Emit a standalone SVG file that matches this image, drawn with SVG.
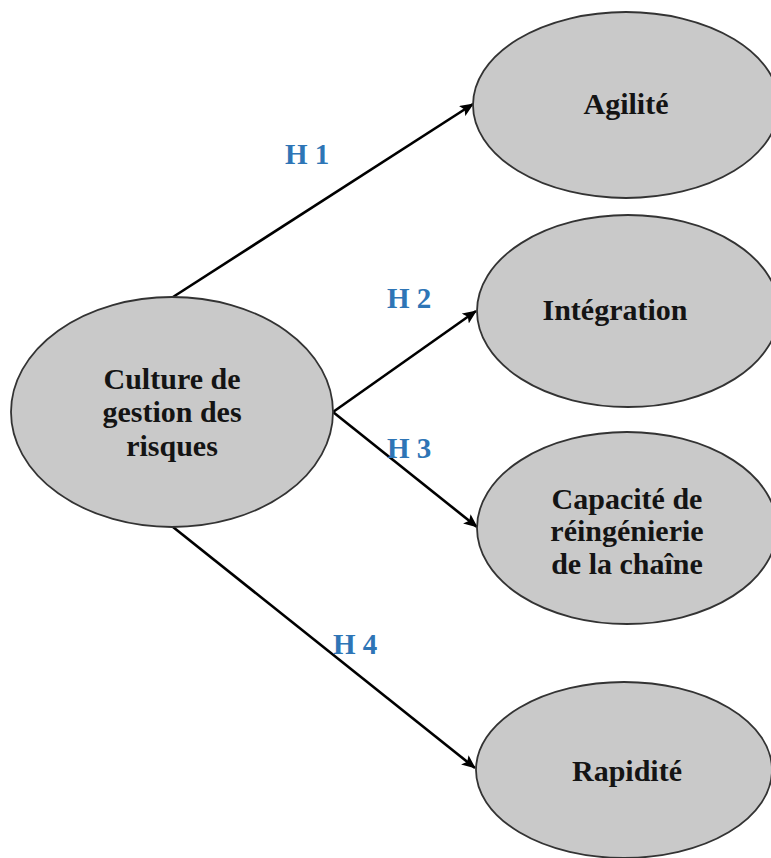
<svg xmlns="http://www.w3.org/2000/svg" width="771" height="858" viewBox="0 0 771 858">
<style>
.node{fill:#c9c9c9;stroke:#333;stroke-width:1.8}
.lbl{font-family:"Liberation Serif","Times New Roman",serif;font-weight:bold;font-size:30px;fill:#141414;text-anchor:middle}
.hyp{font-family:"Liberation Serif","Times New Roman",serif;font-weight:bold;font-size:29px;fill:#2e75b6}
.edge{stroke:#000;stroke-width:2.6;fill:none;marker-end:url(#arr)}
</style>
<defs>
<marker id="arr" markerUnits="userSpaceOnUse" markerWidth="14" markerHeight="12" refX="13" refY="6" orient="auto">
<path d="M0,0 L14,6 L0,12 L3,6 Z" fill="#000"/>
</marker>
</defs>
<rect width="771" height="858" fill="#fff"/>
<g id="connectors">
<line class="edge" x1="173" y1="297" x2="473" y2="104"/>
<line class="edge" x1="333" y1="412" x2="476" y2="311"/>
<line class="edge" x1="333" y1="412" x2="477" y2="527"/>
<line class="edge" x1="173" y1="527" x2="475" y2="768"/>
<text class="hyp" x="285" y="164">H 1</text>
<text class="hyp" x="387" y="308">H 2</text>
<text class="hyp" x="387" y="458">H 3</text>
<text class="hyp" x="333" y="654">H 4</text>
</g>
<g id="culture">
<ellipse class="node" cx="172" cy="412" rx="161" ry="115"/>
<text class="lbl" x="172" y="389">Culture de</text>
<text class="lbl" x="172" y="422">gestion des</text>
<text class="lbl" x="172" y="456">risques</text>
</g>
<g id="agilite">
<ellipse class="node" cx="626" cy="105" rx="153" ry="93"/>
<text class="lbl" x="626" y="114">Agilité</text>
</g>
<g id="integration">
<ellipse class="node" cx="628" cy="311" rx="151" ry="96"/>
<text class="lbl" x="615" y="320">Intégration</text>
</g>
<g id="capacite">
<ellipse class="node" cx="627" cy="528" rx="150" ry="96"/>
<text class="lbl" x="627" y="509">Capacité de</text>
<text class="lbl" x="627" y="541">réingénierie</text>
<text class="lbl" x="627" y="574">de la chaîne</text>
</g>
<g id="rapidite">
<ellipse class="node" cx="624" cy="770" rx="148" ry="88"/>
<text class="lbl" x="627" y="781">Rapidité</text>
</g>
</svg>
